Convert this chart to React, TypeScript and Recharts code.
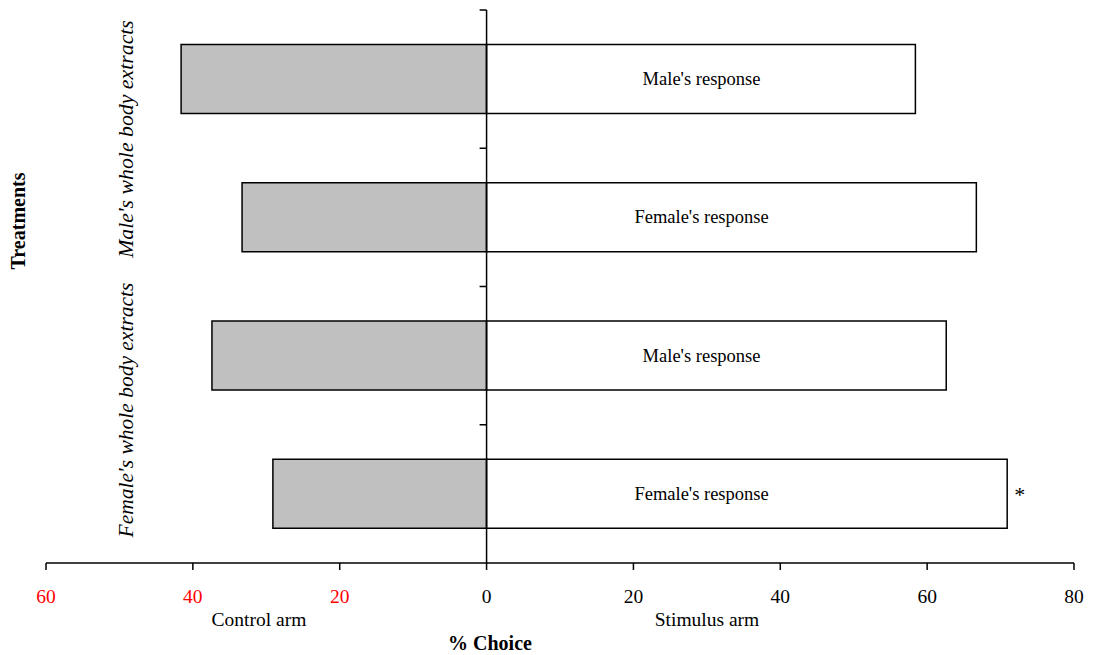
import React from "react";
import { BarChart, Bar, XAxis, YAxis, ReferenceLine, ReferenceArea, LabelList } from "recharts";

const responses = ["Male's response", "Female's response", "Male's response", "Female's response"];
const controlArm = [-41.6, -33.3, -37.4, -29.1];
const stimulusArm = [58.4, 66.7, 62.6, 70.9];
const significance = ["", "", "", "*"];
const xTicks = [-60, -40, -20, 0, 20, 40, 60, 80];

const data = responses.map((r, i) => ({
  id: `row${i}`,
  response: r,
  control: controlArm[i],
  stimulus: stimulusArm[i],
  sig: significance[i],
}));

const FONT = '"Liberation Serif", "Times New Roman", serif';

const XTick = (props: any) => {
  const { x, y, payload } = props;
  return (
    <text x={x} y={y + 31} textAnchor="middle" fill={payload.value < 0 ? "#ff0000" : "#000"} fontSize={19.5} fontFamily={FONT}>
      {Math.abs(payload.value)}
    </text>
  );
};

const ResponseLabel = (props: any) => {
  const { x, y, height, value } = props;
  return (
    <text x={x + 215} y={y + height / 2} dy={6} textAnchor="middle" fill="#000" fontSize={18.5} fontFamily={FONT}>
      {value}
    </text>
  );
};

// y-axis tick: short line on the top edge of each category band
const BandTick = (props: any) => {
  const { x, y, width } = props;
  return <line x1={x} x2={x + width} y1={y} y2={y} stroke="#000" strokeWidth={1.5} />;
};

const abs = (s: React.CSSProperties): React.CSSProperties => ({
  position: "absolute",
  whiteSpace: "nowrap",
  fontFamily: FONT,
  fontSize: 19.5,
  color: "#000",
  transform: "translate(-50%, -50%)",
  ...s,
});

export default function App() {
  return (
    <div style={{ position: "relative", width: 1096, height: 655, background: "#fff" }}>
      <style>{"body{margin:0}"}</style>
      <BarChart
        width={1096}
        height={655}
        data={data}
        layout="vertical"
        stackOffset="sign"
        barCategoryGap="25%"
        margin={{ top: 10, right: 22, bottom: 62, left: 46 }}
      >
        <XAxis
          type="number"
          domain={[-60, 80]}
          ticks={xTicks}
          interval={0}
          height={30}
          tickSize={7}
          tick={<XTick />}
          axisLine={{ stroke: "#000", strokeWidth: 1.5 }}
          tickLine={{ stroke: "#000", strokeWidth: 1.5 }}
        />
        <YAxis type="category" dataKey="id" hide />
        <Bar dataKey="control" stackId="a" fill="#c0c0c0" stroke="#000" strokeWidth={1.5} isAnimationActive={false} />
        <Bar dataKey="stimulus" stackId="a" fill="#fff" stroke="#000" strokeWidth={1.5} isAnimationActive={false}>
          <LabelList dataKey="response" content={<ResponseLabel />} />
          <LabelList dataKey="sig" position="right" offset={7} fill="#000" fontSize={22} fontFamily={FONT} />
        </Bar>
        <ReferenceLine x={0} stroke="#000" strokeWidth={1.5} />
        {data.map((d) => (
          <ReferenceArea key={d.id} x1={-0.95} x2={0} y1={d.id} y2={d.id} shape={<BandTick />} ifOverflow="visible" />
        ))}
      </BarChart>
      <div style={abs({ left: 259, top: 620 })}>Control arm</div>
      <div style={abs({ left: 707, top: 620 })}>Stimulus arm</div>
      <div style={abs({ left: 490, top: 643, fontWeight: "bold", fontSize: 20 })}>% Choice</div>
      <div style={abs({ left: 18, top: 221, fontWeight: "bold", fontSize: 20, transform: "translate(-50%, -50%) rotate(-90deg)" })}>Treatments</div>
      <div style={abs({ left: 126, top: 139, fontStyle: "italic", fontSize: 21.8, transform: "translate(-50%, -50%) rotate(-90deg)" })}>
        Male's whole body extracts
      </div>
      <div style={abs({ left: 126, top: 410, fontStyle: "italic", fontSize: 21.5, transform: "translate(-50%, -50%) rotate(-90deg)" })}>
        Female's whole body extracts
      </div>
    </div>
  );
}
